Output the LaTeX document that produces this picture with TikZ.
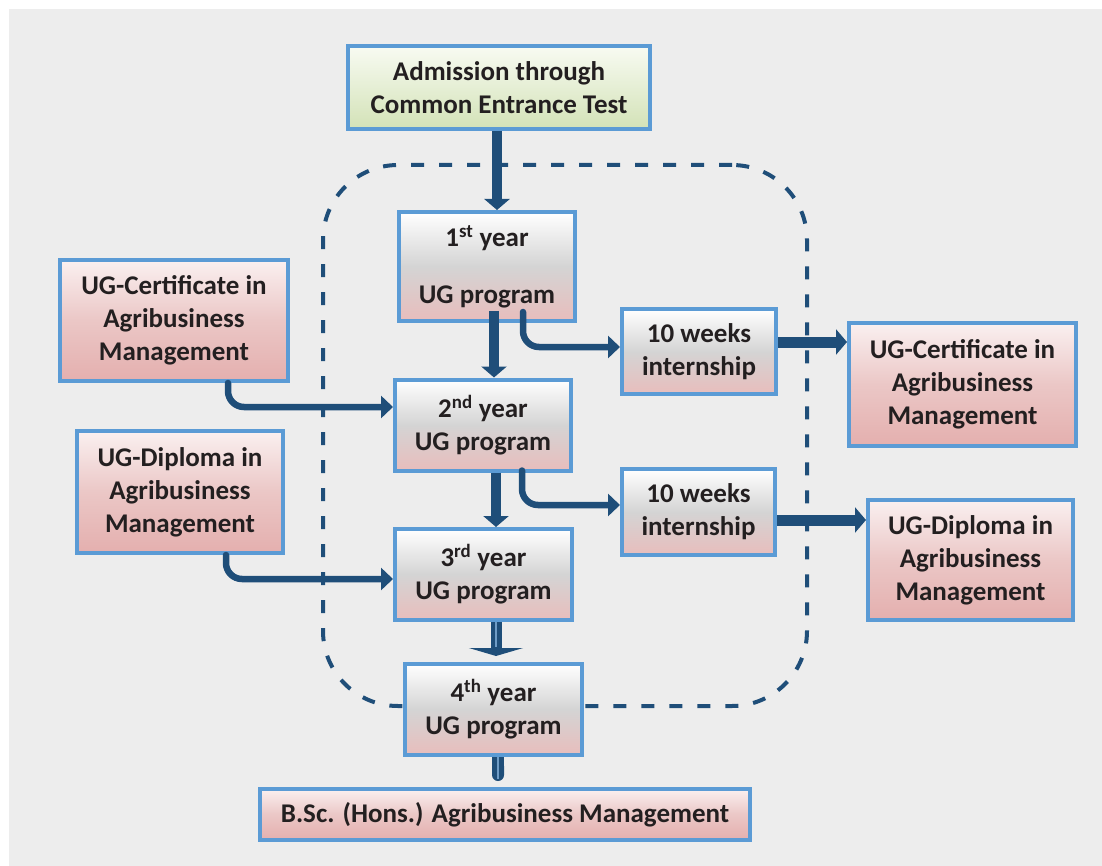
\documentclass[tikz,border=0pt]{standalone}
\usepackage{fontspec}
\setmainfont{Carlito}
\usetikzlibrary{arrows.meta,calc,shadings}
\definecolor{bgc}{HTML}{EDEDED}
\definecolor{bord}{HTML}{5B9BD5}
\definecolor{dblue}{HTML}{1F4E79}
\definecolor{lblue}{HTML}{6F9CC6}
\definecolor{grtop}{HTML}{F8FBF2}
\definecolor{grbot}{HTML}{D3E2B7}
\definecolor{gymid}{HTML}{D4D4D4}
\definecolor{gybot}{HTML}{E8BDBC}
\definecolor{pktop}{HTML}{FAF0F0}
\definecolor{pkmid}{HTML}{EBC7C6}
\definecolor{pkbot}{HTML}{E4AFAE}
\definecolor{txt}{HTML}{231F20}
\tikzset{
  basebox/.style={draw=bord, line width=4pt, inner sep=0pt, align=center,
    font=\fontsize{27}{33}\selectfont\bfseries, text=txt},
  greenbox/.style={basebox, top color=grtop, bottom color=grbot},
  yearbox/.style={basebox, top color=white, bottom color=gybot, middle color=gymid},
  pinkbox/.style={basebox, top color=pktop, bottom color=pkbot, middle color=pkmid},
  bigarrow/.style={draw=dblue, line width=10pt, -{Triangle[length=11pt,width=25pt]}, dblue},
  flowarrow/.style={draw=dblue, line width=6.5pt, rounded corners=16pt, line cap=round,
    -{Triangle[length=12pt,width=22pt]}, dblue},
  dashbox/.style={draw=dblue, line width=4pt, dash pattern=on 13pt off 15pt, rounded corners=75pt, inner sep=0pt}
}
\begin{document}
\begin{tikzpicture}[x=1pt,y=-1pt]
\useasboundingbox (0,0) rectangle (1102,866);
\fill[white] (0,0) rectangle (1102,866);
\fill[bgc] (9,9) rectangle (1102,866);

% dashed program frame
\node[dashbox, minimum width=484pt, minimum height=541pt] (frame) at (565,435.5) {};

% boxes
\node[greenbox, minimum width=302pt, minimum height=83pt] (adm) at (499,87.5) {Admission through\\Common Entrance Test};
\node[yearbox, minimum width=176pt, minimum height=109pt] (y1) at (487,266.5) {1\textsuperscript{st} year\\[24pt]UG program};
\node[yearbox, minimum width=176pt, minimum height=91pt] (y2) at (483,425) {2\textsuperscript{nd} year\\UG program};
\node[yearbox, minimum width=177pt, minimum height=91pt] (y3) at (483.5,574.5) {3\textsuperscript{rd} year\\UG program};
\node[yearbox, minimum width=177pt, minimum height=91pt] (y4) at (493.5,709.5) {4\textsuperscript{th} year\\UG program};
\node[pinkbox, minimum width=490pt, minimum height=51pt] (bsc) at (505,814.5) {B.Sc. (Hons.) Agribusiness Management};
\node[pinkbox, minimum width=228pt, minimum height=121pt] (lc) at (174,320.5) {UG-Certificate in\\Agribusiness\\Management};
\node[pinkbox, minimum width=206pt, minimum height=122pt] (ld) at (180,492) {UG-Diploma in\\Agribusiness\\Management};
\node[yearbox, minimum width=154pt, minimum height=85pt] (i1) at (699,351.5) {10 weeks\\internship};
\node[yearbox, minimum width=153pt, minimum height=86pt] (i2) at (698.5,512) {10 weeks\\internship};
\node[pinkbox, minimum width=227pt, minimum height=123pt] (rc) at (962.5,384.5) {UG-Certificate in\\Agribusiness\\Management};
\node[pinkbox, minimum width=205pt, minimum height=120pt] (rd) at (970.5,560) {UG-Diploma in\\Agribusiness\\Management};

% vertical arrows
\coordinate (v0) at ($(adm.south)+(-2,0)$);
\draw[bigarrow] (v0) -- (v0 |- y1.north);
\coordinate (v1) at ($(y1.south)+(7,-12)$);
\draw[bigarrow] (v1) -- (v1 |- y2.north);
\coordinate (v2) at ($(y2.south)+(13,0)$);
\draw[bigarrow] (v2) -- (v2 |- y3.north);
\coordinate (v3) at ($(y3.south)+(12.5,0)$);
\coordinate (v3e) at ($(v3 |- y4.north)+(0,-6)$);
\draw[draw=dblue, line width=11pt, -{Triangle[length=8pt,width=54pt]}, dblue] (v3) -- (v3e);
\draw[lblue, line width=1.2pt] (v3) -- ($(v3e)+(0,-9)$);
\coordinate (v4) at ($(y4.south)+(4.5,0)$);
\coordinate (v4e) at ($(v4 |- bsc.north)+(0,-6)$);
\draw[draw=dblue, line width=12pt, -{Round Cap[]}] (v4) -- (v4e);
\draw[lblue, line width=1.2pt] (v4) -- ($(v4e)+(0,-2)$);

% flows to internships
\draw[flowarrow] ($(y1.south)+(36,-11)$) |- ($(i1.west)+(0,-4.5)$);
\draw[flowarrow] ($(y2.south)+(39,-2)$) |- ($(i2.west)+(0,-7)$);
% lateral entry
\draw[flowarrow] ($(lc.south)+(54,0)$) |- ($(y2.west)+(0,-18)$);
\draw[flowarrow] ($(ld.south)+(46,0)$) |- ($(y3.west)+(0,4.5)$);

% exits
\coordinate (a1) at ($(i1.east)+(0,-9.5)$);
\draw[bigarrow, line width=11pt] (a1) -- (a1 -| rc.west);
\coordinate (a2) at ($(i2.east)+(0,8)$);
\draw[bigarrow, line width=11pt] (a2) -- (a2 -| rd.west);
\end{tikzpicture}
\end{document}
